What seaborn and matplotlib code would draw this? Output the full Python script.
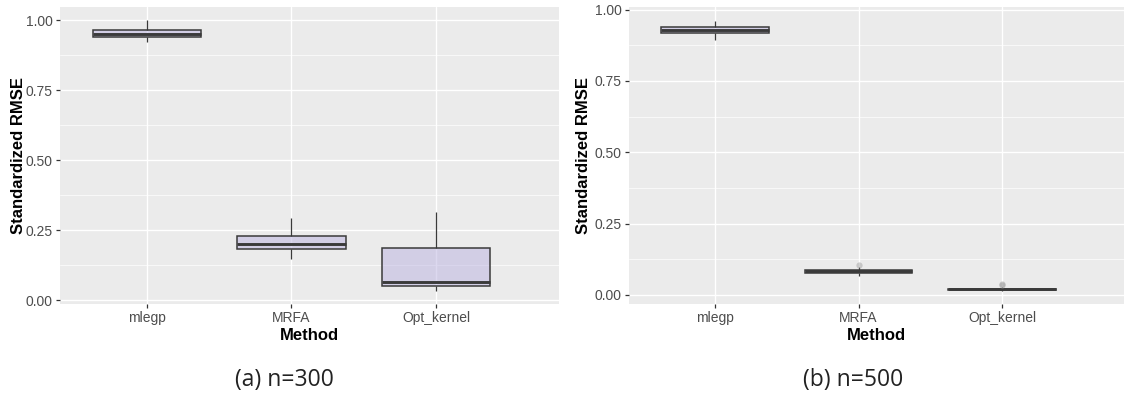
import numpy as np
import pandas as pd
import matplotlib
matplotlib.use("Agg")
import matplotlib.pyplot as plt
import seaborn as sns
from matplotlib.ticker import MultipleLocator

# ---- data (five-number summaries) ----
methods = ["mlegp", "MRFA", "Opt_kernel"]

# n = 300: [lower whisker, Q1, median, Q3, upper whisker]
n300_mlegp = [0.924, 0.940, 0.951, 0.967, 1.000]
n300_mrfa = [0.146, 0.184, 0.203, 0.231, 0.293]
n300_opt = [0.035, 0.050, 0.064, 0.187, 0.315]

# n = 500
n500_mlegp = [0.893, 0.917, 0.927, 0.938, 0.961]
n500_mrfa = [0.066, 0.078, 0.082, 0.086, 0.098]
n500_opt = [0.015, 0.018, 0.020, 0.022, 0.026]

# outliers (n = 500)
n500_out_method = ["MRFA", "Opt_kernel", "Opt_kernel"]
n500_out_value = [0.106, 0.037, 0.034]

y_ticks = [0.00, 0.25, 0.50, 0.75, 1.00]
y_ticklabels = ["0.00", "0.25", "0.50", "0.75", "1.00"]
captions = ["(a) n=300", "(b) n=500"]


def long_frame(groups):
    rows = []
    for m, vals in zip(methods, groups):
        for v in vals:
            rows.append((m, v))
    return pd.DataFrame(rows, columns=["Method", "RMSE"])


df300 = long_frame([n300_mlegp, n300_mrfa, n300_opt])
df500 = long_frame([n500_mlegp, n500_mrfa, n500_opt])
out500 = pd.DataFrame({"Method": n500_out_method, "RMSE": n500_out_value})

# ---- style ----
sns.set_style("darkgrid")
plt.rcParams["font.family"] = ["Liberation Sans", "DejaVu Sans"]

W, H = 1124, 396
fig = plt.figure(figsize=(W / 100, H / 100), dpi=100)

panel_bottom_px, panel_top_px = 304, 7
ax_h = (panel_bottom_px - panel_top_px) / H
ax_y0 = (H - panel_bottom_px) / H
axL = fig.add_axes([60 / W, ax_y0, (559 - 60) / W, ax_h])
axR = fig.add_axes([629 / W, ax_y0, (1124 - 629) / W, ax_h])

fill = (0.733, 0.702, 0.882, 0.5)
edge = "#3a3a3a"

box_kw = dict(
    order=methods,
    whis=np.inf,
    width=0.75,
    showcaps=False,
    boxprops=dict(facecolor=fill, edgecolor=edge, linewidth=1.1),
    medianprops=dict(color=edge, linewidth=2.1),
    whiskerprops=dict(color=edge, linewidth=0.9),
    flierprops=dict(marker=""),
)


def style_axes(ax, ylim, ylabel_x):
    ax.set_facecolor("#EBEBEB")
    ax.set_xlim(-0.6, 2.85)
    ax.set_ylim(*ylim)
    ax.set_yticks(y_ticks)
    ax.set_yticklabels(y_ticklabels)
    ax.yaxis.set_minor_locator(MultipleLocator(0.125))
    ax.grid(which="major", color="white", linewidth=1.0)
    ax.grid(which="minor", axis="y", color="white", linewidth=0.5)
    ax.set_axisbelow(True)
    for s in ax.spines.values():
        s.set_visible(False)
    ax.tick_params(axis="both", which="major", length=3.0, width=0.9,
                   color="#333333", labelcolor="#4D4D4D", labelsize=10,
                   pad=2.2, bottom=True, left=True)
    ax.tick_params(axis="y", which="minor", length=0)
    ax.set_xlabel("Method", fontsize=12, fontweight="bold", color="black")
    ax.set_ylabel("Standardized RMSE", fontsize=12, fontweight="bold", color="black")
    ax.xaxis.set_label_coords(0.5, -0.082)
    ax.yaxis.set_label_coords(ylabel_x, 0.5)


sns.boxplot(data=df300, x="Method", y="RMSE", ax=axL, **box_kw)
style_axes(axL, (-0.013, 1.048), -0.068)

sns.boxplot(data=df500, x="Method", y="RMSE", ax=axR, **box_kw)
sns.stripplot(data=out500, x="Method", y="RMSE", order=methods, ax=axR,
              jitter=False, color="#9a9a9a", alpha=0.45, size=4.5, linewidth=0)
style_axes(axR, (-0.032, 1.009), -0.077)

fig.text(284 / W, 1 - 380 / H, captions[0], ha="center", va="center",
         fontsize=16.5, family=["Open Sans", "DejaVu Sans"], color="#222222")
fig.text(853 / W, 1 - 380 / H, captions[1], ha="center", va="center",
         fontsize=16.5, family=["Open Sans", "DejaVu Sans"], color="#222222")

fig.savefig("out.png", dpi=100)
